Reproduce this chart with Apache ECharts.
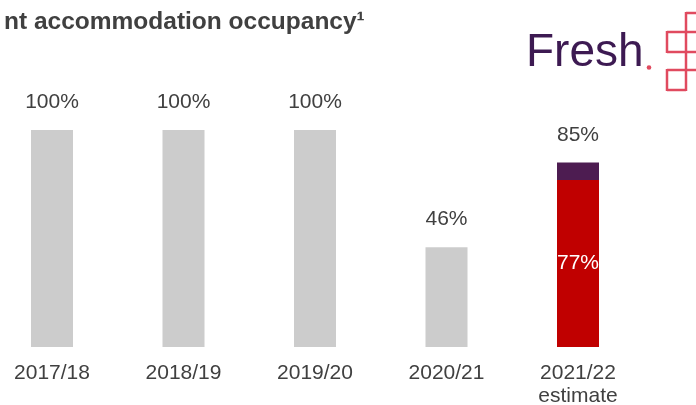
<!DOCTYPE html>
<html>
<head>
<meta charset="utf-8">
<script src="https://cdn.jsdelivr.net/npm/echarts@6/dist/echarts.min.js"></script>
<style>html,body{margin:0;padding:0;background:#fff;}#c{width:696px;height:405px;}</style>
</head>
<body>
<div id="c"></div>
<script>
const categories = ['2017/18', '2018/19', '2019/20', '2020/21', '2021/22\nestimate'];
const occupancyGrey = [100, 100, 100, 46, null];
const occupancyRed = [null, null, null, null, 77];
const occupancyPurple = [null, null, null, null, 8];
const totalLabels = ['100%', '100%', '100%', '46%', '85%'];
const titleText = 'nt accommodation occupancy\u00b9';

const TEXT = '#404040';
const FONT = '"Liberation Sans", Arial, sans-serif';
const LOGO_RED = '#E04A5F';

const chart = echarts.init(document.getElementById('c'), null, {renderer: 'canvas'});
const topLabel = {
  show: true, position: 'top', distance: 17,
  fontSize: 21, color: TEXT, fontFamily: FONT,
  formatter: p => totalLabels[p.dataIndex]
};
const logoLine = (pts) => ({
  type: 'polyline', shape: {points: pts},
  style: {stroke: LOGO_RED, lineWidth: 2.5, fill: null}
});
chart.setOption({
  animation: false,
  title: {
    text: titleText, left: -1, top: 5,
    textStyle: {fontSize: 24.5, fontWeight: 'bold', color: TEXT, fontFamily: FONT}
  },
  grid: {left: 52, width: 526, top: 130, bottom: 58, outerBoundsMode: 'none', containLabel: false},
  xAxis: {
    type: 'category', data: categories, boundaryGap: false,
    axisLine: {show: false}, axisTick: {show: false},
    axisLabel: {margin: 15, fontSize: 21, lineHeight: 23, color: TEXT, fontFamily: FONT, interval: 0}
  },
  yAxis: {type: 'value', min: 0, max: 100, show: false, splitLine: {show: false}},
  series: [
    {type: 'bar', stack: 'a', data: occupancyGrey, barWidth: 42,
     itemStyle: {color: '#CCCCCC'}, label: topLabel},
    {type: 'bar', stack: 'a', data: occupancyRed, barWidth: 42,
     itemStyle: {color: '#C00000'},
     label: {show: true, position: 'inside', fontSize: 21, color: '#FFFFFF', fontFamily: FONT,
             formatter: p => p.value + '%'}},
    {type: 'bar', stack: 'a', data: occupancyPurple, barWidth: 42,
     itemStyle: {color: '#4D1C51'}, label: topLabel}
  ],
  graphic: [
    {type: 'text', x: 526, y: 53.5,
     style: {text: 'Fresh', fontSize: 46, fontWeight: 400, fontFamily: FONT, fill: '#3D1A52',
             align: 'left', verticalAlign: 'middle'}},
    {type: 'circle', shape: {cx: 649, cy: 67.5, r: 2.3}, style: {fill: LOGO_RED}},
    logoLine([[686, 13], [696, 13]]),
    logoLine([[686, 12], [686, 70]]),
    logoLine([[667, 32], [696, 32]]),
    logoLine([[667, 52], [696, 52]]),
    logoLine([[667, 31], [667, 53]]),
    logoLine([[667, 70], [696, 70]]),
    logoLine([[667, 90], [686, 90]]),
    logoLine([[667, 69], [667, 91]]),
    logoLine([[686, 70], [686, 91]])
  ]
});
</script>
</body>
</html>
